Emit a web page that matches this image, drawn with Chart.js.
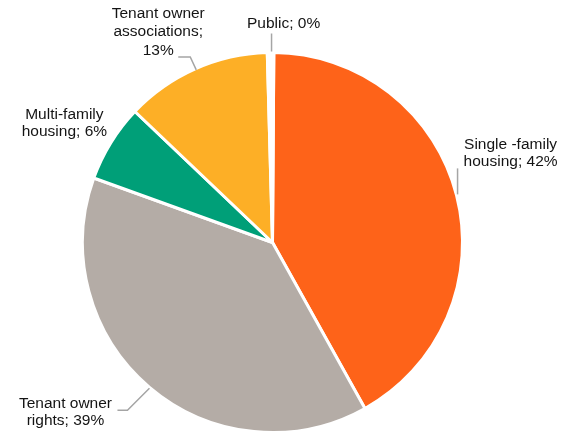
<!DOCTYPE html>
<html>
<head>
<meta charset="utf-8">
<script src="https://cdn.jsdelivr.net/npm/chart.js@4"></script>
<style>
html,body{margin:0;padding:0;background:#fff;}
#wrap{width:573px;height:434px;position:relative;}
</style>
</head>
<body>
<div id="wrap"><canvas id="c" width="573" height="434"></canvas></div>
<script>
const categories = ["Single -family housing", "Tenant owner rights", "Multi-family housing", "Tenant owner associations", "Public"];
const values = [41.8, 38.6, 6.6, 12.45, 0.55];
const shownPercent = [42, 39, 6, 13, 0];
const labelLines = [
  ["Single -family", "housing; 42%"],
  ["Tenant owner", "rights; 39%"],
  ["Multi-family", "housing; 6%"],
  ["Tenant owner", "associations;", "13%"],
  ["Public; 0%"]
];
const colors = ["#FE6319", "#B4ACA6", "#009F78", "#FDAF26", "#FFFFFF"];

// label layout: leader path offsets relative to the arc's outer-edge midpoint, text centre offset, line height
const labelLayout = [
  {leader: [[1, -1], [1, -27]], text: [54, -42.5], lh: 17},
  {leader: [[0, 1], [-22, 23], [-32, 23]], text: [-84, 25], lh: 16.5},
  {leader: null, text: [-46.5, -19.5], lh: 16.5},
  {leader: [[1, 1], [-5, -12], [-17, -12]], text: [-37, -37], lh: 18.5},
  {leader: [[1, -1], [1, -19]], text: [13, -29], lh: 17}
];

const labelPlugin = {
  id: 'pieLabels',
  afterDatasetsDraw(chart) {
    const ctx = chart.ctx;
    const meta = chart.getDatasetMeta(0);
    ctx.save();
    meta.data.forEach((arc, i) => {
      const p = arc.getProps(['x', 'y', 'startAngle', 'endAngle', 'outerRadius'], true);
      const mid = (p.startAngle + p.endAngle) / 2;
      const ex = p.x + Math.cos(mid) * p.outerRadius;
      const ey = p.y + Math.sin(mid) * p.outerRadius;
      const lay = labelLayout[i];
      if (lay.leader) {
        ctx.beginPath();
        ctx.strokeStyle = '#A5A5A5';
        ctx.lineWidth = 1.5;
        lay.leader.forEach((pt, k) => {
          const x = ex + pt[0], y = ey + pt[1];
          if (k === 0) ctx.moveTo(x, y); else ctx.lineTo(x, y);
        });
        ctx.stroke();
      }
      ctx.fillStyle = '#141414';
      ctx.font = '15.5px "Liberation Sans", Arial, sans-serif';
      ctx.textAlign = 'center';
      ctx.textBaseline = 'middle';
      const lines = labelLines[i];
      const lh = lay.lh;
      const cx = ex + lay.text[0];
      const cy = ey + lay.text[1];
      lines.forEach((ln, k) => {
        ctx.fillText(ln, cx, cy + (k - (lines.length - 1) / 2) * lh);
      });
    });
    ctx.restore();
  }
};

new Chart(document.getElementById('c'), {
  type: 'pie',
  data: {
    labels: categories,
    datasets: [{
      data: values,
      backgroundColor: colors,
      borderColor: '#FFFFFF',
      borderWidth: 3
    }]
  },
  options: {
    responsive: false,
    animation: false,
    rotation: 0.4,
    layout: {padding: {top: 51, bottom: 0, left: 81, right: 109}},
    plugins: {
      legend: {display: false},
      tooltip: {enabled: false}
    }
  },
  plugins: [labelPlugin]
});
</script>
</body>
</html>
